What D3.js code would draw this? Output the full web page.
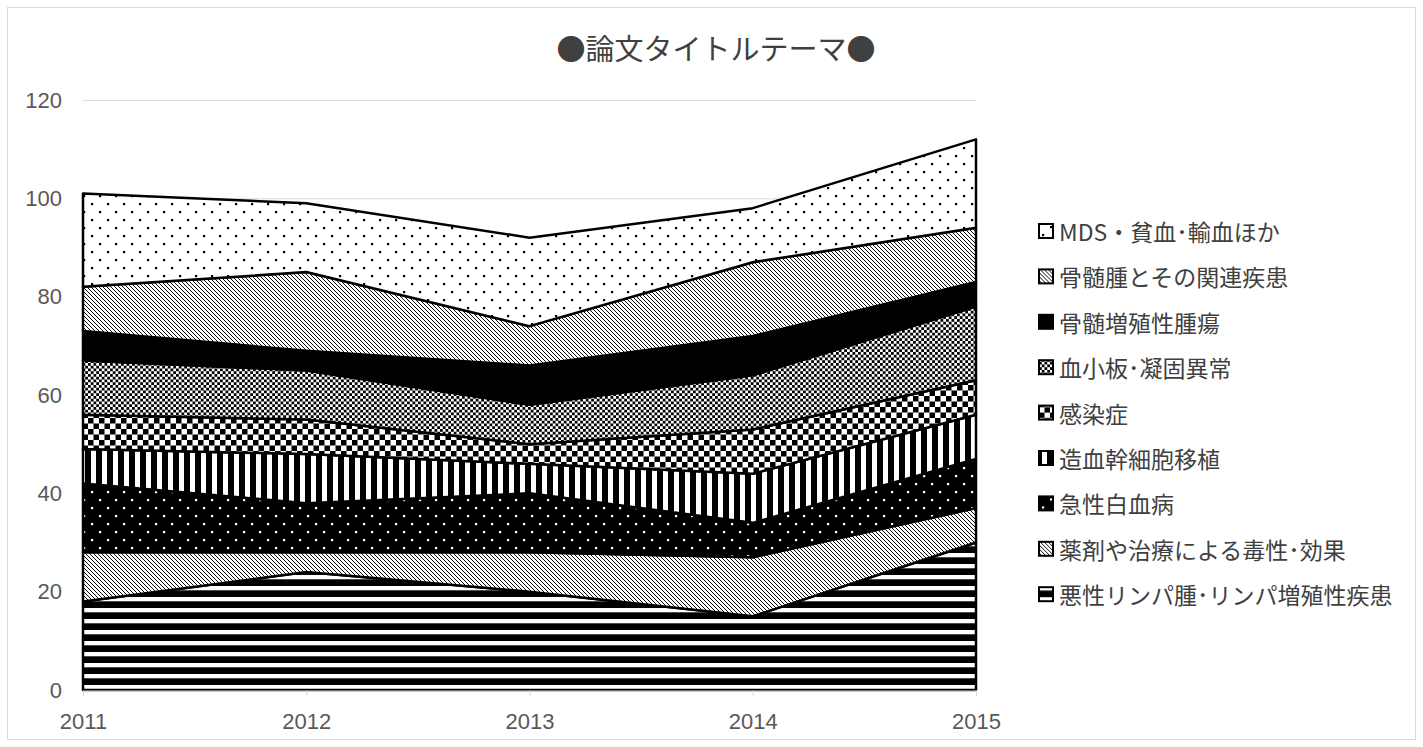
<!DOCTYPE html>
<html>
<head>
<meta charset="utf-8">
<script src="https://cdn.jsdelivr.net/npm/d3@7"></script>
<style>
  body { margin: 0; background: #fff; }
  svg { display: block; }
</style>
</head>
<body>
<div id="main"></div>
<script>
// データ（下から順に積み上げ）
const years = [2011, 2012, 2013, 2014, 2015];
const seriesNames = [
  "悪性リンパ腫･リンパ増殖性疾患",
  "薬剤や治療による毒性･効果",
  "急性白血病",
  "造血幹細胞移植",
  "感染症",
  "血小板･凝固異常",
  "骨髄増殖性腫瘍",
  "骨髄腫とその関連疾患",
  "MDS・貧血･輸血ほか"
];
const lymphoma  = [18, 24, 20, 15, 30];
const drugTox   = [10, 4, 8, 12, 7];
const acuteLeuk = [14, 10, 12, 7, 10];
const hsct      = [7, 10, 6, 10, 9];
const infection = [7, 7, 4, 9, 7];
const platelet  = [11, 10, 8, 11, 15];
const mpn       = [6, 4, 8, 8, 5];
const myeloma   = [9, 16, 8, 15, 11];
const mds       = [19, 14, 18, 11, 18];
const yTicks = [0, 20, 40, 60, 80, 100, 120];
const titleText = "●論文タイトルテーマ●";

const seriesValues = [lymphoma, drugTox, acuteLeuk, hsct, infection, platelet, mpn, myeloma, mds];
// 各系列の塗りパターン
const fills = ["url(#hstripe)", "url(#diag)", "url(#dotw)", "url(#vstripe)", "url(#bigcheck)",
               "url(#smallcheck)", "#000", "url(#diag)", "url(#dotb)"];

const W = 1423, H = 747;
const plot = { left: 83, right: 976, top: 100, bottom: 690 };

const svg = d3.select("#main").append("svg")
    .attr("width", W)
    .attr("height", H);

// パターン定義
const defs = svg.append("defs");
function pattern(id, w, h, bg) {
    const p = defs.append("pattern")
        .attr("id", id)
        .attr("patternUnits", "userSpaceOnUse")
        .attr("width", w)
        .attr("height", h);
    p.append("rect").attr("width", w).attr("height", h).attr("fill", bg);
    return p;
}
pattern("hstripe", 11, 11, "#000")
    .append("rect").attr("y", 3).attr("width", 11).attr("height", 4.3).attr("fill", "#fff");
pattern("vstripe", 11, 11, "#000")
    .append("rect").attr("x", 3).attr("width", 5).attr("height", 11).attr("fill", "#fff");
const dg = pattern("diag", 4, 4, "#fff");
dg.append("path").attr("d", "M-1,-1L5,5M-1,3L1,5M3,-1L5,1")
    .attr("stroke", "#000").attr("stroke-width", 0.95);
const sc = pattern("smallcheck", 5.5, 5.5, "#fff");
sc.append("rect").attr("width", 2.75).attr("height", 2.75).attr("fill", "#000");
sc.append("rect").attr("x", 2.75).attr("y", 2.75).attr("width", 2.75).attr("height", 2.75).attr("fill", "#000");
const bc = pattern("bigcheck", 11, 11, "#fff");
bc.append("rect").attr("width", 5.5).attr("height", 5.5).attr("fill", "#000");
bc.append("rect").attr("x", 5.5).attr("y", 5.5).attr("width", 5.5).attr("height", 5.5).attr("fill", "#000");
const db = pattern("dotb", 16, 16, "#fff");
db.append("rect").attr("x", 3).attr("y", 3).attr("width", 2.2).attr("height", 2.2).attr("fill", "#000");
db.append("rect").attr("x", 11).attr("y", 11).attr("width", 2.2).attr("height", 2.2).attr("fill", "#000");
const dw = pattern("dotw", 16, 16, "#000");
dw.append("rect").attr("x", 3).attr("y", 3).attr("width", 2.2).attr("height", 2.2).attr("fill", "#fff");
dw.append("rect").attr("x", 11).attr("y", 11).attr("width", 2.2).attr("height", 2.2).attr("fill", "#fff");

// 外枠
svg.append("rect")
    .attr("x", 7.5).attr("y", 7.5)
    .attr("width", 1408).attr("height", 732)
    .attr("fill", "#fff")
    .attr("stroke", "#d9d9d9");

const x = d3.scaleLinear().domain([2011, 2015]).range([plot.left, plot.right]);
const y = d3.scaleLinear().domain([0, 120]).range([plot.bottom, plot.top]);

// グリッド線
svg.append("g")
    .selectAll("line")
    .data(yTicks)
    .join("line")
    .attr("x1", plot.left).attr("x2", plot.right)
    .attr("y1", d => y(d) + 0.5).attr("y2", d => y(d) + 0.5)
    .attr("stroke", "#d9d9d9");

// 積み上げ
const table = years.map((yr, i) => {
    const row = { year: yr };
    seriesNames.forEach((n, j) => row[n] = seriesValues[j][i]);
    return row;
});
const stacked = d3.stack().keys(seriesNames)(table);

const area = d3.area()
    .x(d => x(d.data.year))
    .y0(d => y(d[0]))
    .y1(d => y(d[1]));

svg.append("g")
    .selectAll("path")
    .data(stacked)
    .join("path")
    .attr("d", area)
    .attr("fill", (d, i) => fills[i])
    .attr("stroke", "#000")
    .attr("stroke-width", 2.5)
    .attr("stroke-linejoin", "round");

// x軸
const xAxis = svg.append("g")
    .attr("transform", `translate(0,${plot.bottom + 0.5})`)
    .call(d3.axisBottom(x).tickValues(years).tickFormat(d3.format("d")).tickSize(6).tickSizeOuter(0).tickPadding(17));
xAxis.select(".domain").attr("stroke", "#d9d9d9");
xAxis.selectAll(".tick line").attr("stroke", "#d9d9d9");
xAxis.selectAll("text")
    .attr("fill", "#595959")
    .attr("font-family", "'Liberation Sans', sans-serif")
    .attr("font-size", 22);

// y軸ラベル
const yAxis = svg.append("g")
    .attr("transform", `translate(${plot.left},0)`)
    .call(d3.axisLeft(y).tickValues(yTicks).tickSize(0).tickPadding(21));
yAxis.select(".domain").remove();
yAxis.selectAll("text")
    .attr("fill", "#595959")
    .attr("font-family", "'Liberation Sans', sans-serif")
    .attr("font-size", 22);

// タイトル
svg.append("text")
    .attr("x", 716).attr("y", 47)
    .attr("text-anchor", "middle")
    .attr("dominant-baseline", "central")
    .attr("fill", "#404040")
    .style("font-family", "'Noto Sans CJK JP', sans-serif")
    .style("font-size", "29px")
    .text(titleText);

// 凡例（上から逆順）
const legend = svg.append("g");
const legendItems = seriesNames.map((n, i) => ({ name: n, fill: fills[i] })).reverse();
const rows = legend.selectAll("g")
    .data(legendItems)
    .join("g")
    .attr("transform", (d, i) => `translate(1039,${231 + i * 45.4})`);
rows.append("rect")
    .attr("x", 0).attr("y", -7)
    .attr("width", 14).attr("height", 14)
    .attr("fill", d => d.fill)
    .attr("stroke", "#000")
    .attr("stroke-width", 2);
rows.append("text")
    .attr("x", 20).attr("y", 0)
    .attr("dominant-baseline", "central")
    .attr("fill", "#404040")
    .style("font-family", "'Noto Sans CJK JP', sans-serif")
    .style("font-size", "23px")
    .text(d => d.name);
</script>
</body>
</html>
